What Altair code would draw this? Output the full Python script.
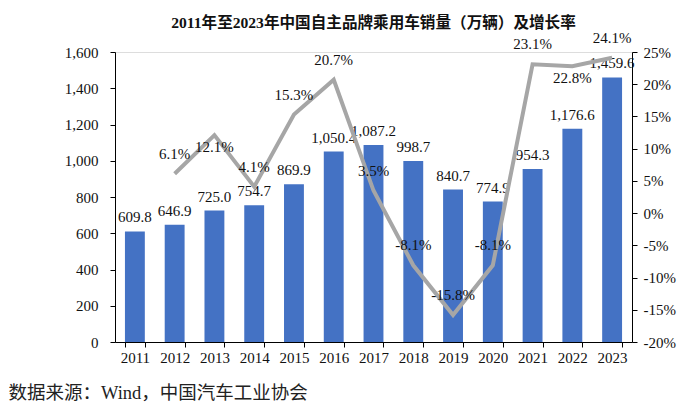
import altair as alt
import pandas as pd

years = ["2011", "2012", "2013", "2014", "2015", "2016", "2017",
         "2018", "2019", "2020", "2021", "2022", "2023"]
sales = [609.8, 646.9, 725.0, 754.7, 869.9, 1050.4, 1087.2,
         998.7, 840.7, 774.9, 954.3, 1176.6, 1459.6]
growth = [None, 6.1, 12.1, 4.1, 15.3, 20.7, 3.5,
          -8.1, -15.8, -8.1, 23.1, 22.8, 24.1]
below_label_years = ["2013", "2022"]

left_ticks = [0, 200, 400, 600, 800, 1000, 1200, 1400, 1600]
right_ticks = [-20, -15, -10, -5, 0, 5, 10, 15, 20, 25]

title_text = "2011年至2023年中国自主品牌乘用车销量（万辆）及增长率"
source_text = "数据来源：Wind，中国汽车工业协会"

df = pd.DataFrame({"year": years, "sales": sales, "growth": growth})

FONT = "Liberation Serif, Times New Roman, Noto Sans CJK SC"
BAR = "#4472C4"
LINE = "#A6A6A6"

x = alt.X(
    "year:N",
    sort=years,
    scale=alt.Scale(paddingInner=0.5, paddingOuter=0.25),
    axis=alt.Axis(
        title=source_text,
        titleFont=FONT,
        titleFontSize=18.5,
        titleFontWeight="normal",
        titleColor="#222222",
        titleAnchor="start",
        titleAlign="left",
        titleBaseline="middle",
        titleX=-107,
        titleY=50,
        labelAngle=0,
        labelFont=FONT,
        labelFontSize=15,
        labelColor="#111111",
        labelPadding=3,
        tickBand="extent",
        tickSize=5,
        tickColor="#000000",
        domainColor="#000000",
        grid=False,
    ),
)

y_left = alt.Y(
    "sales:Q",
    scale=alt.Scale(domain=[0, 1600], nice=False),
    axis=alt.Axis(
        title=None,
        values=left_ticks,
        format=",.0f",
        labelFont=FONT,
        labelFontSize=15,
        labelColor="#111111",
        labelPadding=12,
        tickSize=5,
        tickColor="#000000",
        domainColor="#000000",
        grid=False,
    ),
)

y_right = alt.Y(
    "growth:Q",
    scale=alt.Scale(domain=[-20, 25], nice=False),
    axis=alt.Axis(
        title=None,
        orient="right",
        values=right_ticks,
        labelExpr="datum.value + '%'",
        labelFont=FONT,
        labelFontSize=15,
        labelColor="#111111",
        labelPadding=6,
        tickSize=5,
        tickColor="#000000",
        domainColor="#000000",
        grid=False,
    ),
)

bars = alt.Chart(df).mark_bar(color=BAR).encode(x=x, y=y_left)

bar_labels = alt.Chart(df).mark_text(
    font=FONT, fontSize=15, color="#111111", dy=-14, baseline="middle"
).encode(
    x=x,
    y=y_left,
    text=alt.Text("sales:Q", format=",.1f"),
)

left_layer = alt.layer(bars, bar_labels)

line = alt.Chart(df).transform_filter(
    "isValid(datum.growth)"
).mark_line(color=LINE, strokeWidth=4).encode(x=x, y=y_right)

pct_base = alt.Chart(df).transform_filter(
    "isValid(datum.growth)"
).transform_calculate(
    label="replace(format(datum.growth, '.1f'), '\u2212', '-') + '%'",
    below="indexof(" + str(below_label_years).replace("'", '"') + ", datum.year) >= 0",
)

pct_above = pct_base.transform_filter("!datum.below").mark_text(
    font=FONT, fontSize=15, color="#111111", dy=-20, baseline="middle"
).encode(x=x, y=y_right, text="label:N")

pct_below = pct_base.transform_filter("datum.below").mark_text(
    font=FONT, fontSize=15, color="#111111", dy=12, baseline="middle"
).encode(x=x, y=y_right, text="label:N")

right_layer = alt.layer(line, pct_above, pct_below)

chart = alt.layer(left_layer, right_layer).resolve_scale(
    y="independent"
).properties(
    width=517,
    height=290,
    padding={"left": 107, "top": 44, "right": 60, "bottom": 61},
    autosize=alt.AutoSizeParams(type="none"),
    title=alt.TitleParams(
        text=title_text,
        font=FONT,
        fontSize=15.6,
        fontWeight="bold",
        color="#111111",
        anchor="middle",
        offset=-1,
    ),
).configure_view(stroke=None).configure(background="white")

chart.save("out.html", embed_options={"renderer": "svg", "actions": False})
